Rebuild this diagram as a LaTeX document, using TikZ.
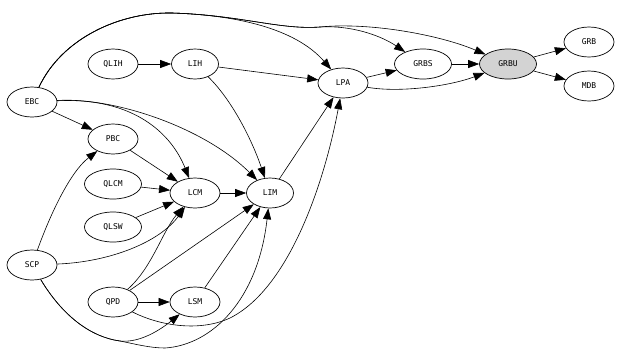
\documentclass[tikz,border=0pt]{standalone}
\usepackage{fontspec}
\setmonofont{DejaVu Sans Mono}
\usepackage{xcolor}
\usetikzlibrary{shapes.geometric, arrows.meta}
\definecolor{grbugray}{RGB}{211,211,211}

\begin{document}
\begin{tikzpicture}[
    x=1pt, y=-1pt,
    every node/.style={ellipse, draw, line width=0.7pt, minimum width=50pt, minimum height=30pt, inner sep=0pt, font=\ttfamily\fontsize{8}{8}\selectfont},
    wide/.style={minimum width=57pt},
    narrow/.style={minimum width=47pt},
    target/.style={fill=grbugray},
    link/.style={line width=0.6pt, -{Triangle[length=11pt, width=8pt]}}
]
\useasboundingbox (0,0) rectangle (621,357);

% left column
\node (EBC) at (32,102) {EBC};
\node (SCP) at (32,265) {SCP};

% second column
\node (QLIH) at (113,64) {QLIH};
\node (PBC) at (113,139) {PBC};
\node[wide] (QLCM) at (113,184) {QLCM};
\node[wide] (QLSW) at (113,227) {QLSW};
\node (QPD) at (113,302) {QPD};

% middle
\node[narrow] (LIH) at (195,64) {LIH};
\node (LCM) at (195,193) {LCM};
\node (LSM) at (195,302) {LSM};
\node[narrow] (LIM) at (270,193) {LIM};
\node (LPA) at (343,83) {LPA};

% right side
\node[wide] (GRBS) at (423,64) {GRBS};
\node[wide, target] (GRBU) at (508,64) {GRBU};
\node (GRB) at (589,42) {GRB};
\node (MDB) at (589,86) {MDB};

% upper chain
\draw[link] (QLIH) -- (LIH);
\draw[link] (LIH) -- (LPA);
\draw[link] (LIH) .. controls (232,100) and (252,140) .. (LIM);

% from EBC
\draw[link] (EBC) -- (PBC);
\draw[link] (EBC) .. controls (135,97) and (172,135) .. (LCM);
\draw[link] (EBC) .. controls (115,97) and (205,128) .. (LIM);
\draw[link] (EBC) .. controls (62,38) and (120,12) .. (172,13) .. controls (235,15) and (295,28) .. (LPA);
\draw[link] (EBC) .. controls (62,38) and (120,12) .. (172,13) .. controls (240,15) and (280,30) .. (320,27) .. controls (350,25) and (380,35) .. (GRBS);
\draw[link] (EBC) .. controls (62,38) and (120,12) .. (172,13) .. controls (240,15) and (280,30) .. (320,27) .. controls (370,22) and (440,35) .. (GRBU);

% into LCM
\draw[link] (PBC) -- (LCM);
\draw[link] (QLCM) -- (LCM);
\draw[link] (QLSW) -- (LCM);

% from SCP
\draw[link] (SCP) .. controls (50,215) and (70,172) .. (PBC);
\draw[link] (SCP) .. controls (110,262) and (160,242) .. (LCM);
\draw[link] (SCP) .. controls (62,315) and (90,337) .. (120,341) .. controls (140,343) and (160,330) .. (LSM);
\draw[link] (SCP) .. controls (62,315) and (90,337) .. (120,341) .. controls (135,344) and (150,348) .. (165,348) .. controls (212,345) and (258,300) .. (LIM);

% from QPD
\draw[link] (QPD) -- (LSM);
\draw[link] (QPD) -- (LIM);
\draw[link] (QPD) .. controls (152,268) and (162,232) .. (LCM);
\draw[link] (QPD) .. controls (160,326) and (200,332) .. (230,318) .. controls (290,288) and (325,180) .. (LPA);

% into LIM and LPA
\draw[link] (LSM) -- (LIM);
\draw[link] (LCM) -- (LIM);
\draw[link] (LIM) -- (LPA);

% towards GRBU
\draw[link] (LPA) -- (GRBS);
\draw[link] (LPA) .. controls (400,93) and (450,86) .. (GRBU);
\draw[link] (GRBS) -- (GRBU);
\draw[link] (GRBU) -- (GRB);
\draw[link] (GRBU) -- (MDB);

\end{tikzpicture}
\end{document}
